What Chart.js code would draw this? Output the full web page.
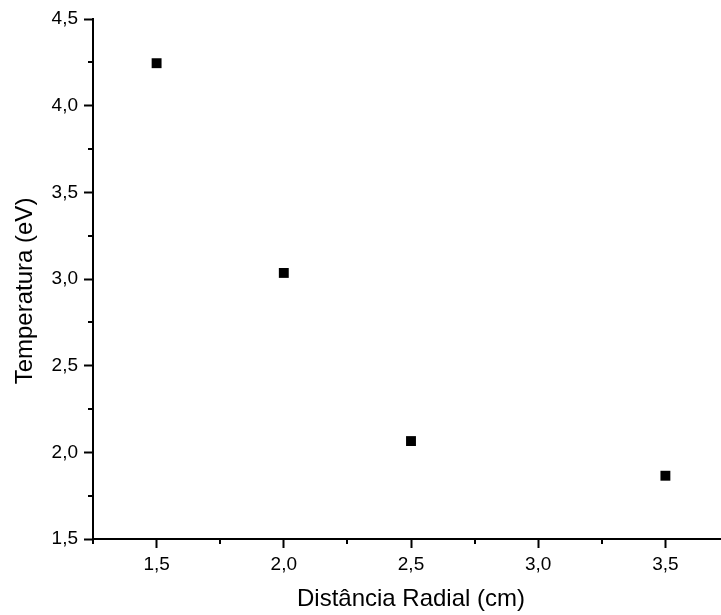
<!DOCTYPE html>
<html>
<head>
<meta charset="utf-8">
<script src="https://cdn.jsdelivr.net/npm/chart.js@4/dist/chart.umd.min.js"></script>
<style>
  html, body { margin: 0; padding: 0; background: #fff; overflow: hidden; }
  #wrap { width: 730px; height: 615px; }
</style>
</head>
<body>
<div id="wrap"><canvas id="tempChart" width="730" height="615"></canvas></div>
<script>
// radial distance (cm) and electron temperature (eV)
const distance = [1.5, 2.0, 2.5, 3.5];
const temperature = [4.245, 3.035, 2.065, 1.865];

// tick positions
const xMajor = [1.5, 2.0, 2.5, 3.0, 3.5];
const xMinor = [1.25, 1.75, 2.25, 2.75, 3.25, 3.75];
const yMajor = [1.5, 2.0, 2.5, 3.0, 3.5, 4.0, 4.5];
const yMinor = [1.75, 2.25, 2.75, 3.25, 3.75, 4.25];

const xTitle = "Distância Radial (cm)";
const yTitle = "Temperatura (eV)";

const fontFamily = "'Liberation Sans', Arial, sans-serif";
const commaFmt = v => Number(v).toFixed(1).replace(".", ",");

// short outward ticks between the labelled ones, plus the y-axis title
const extras = {
  id: "extras",
  afterDraw(chart) {
    const ctx = chart.ctx;
    const xs = chart.scales.x, ys = chart.scales.y;
    const area = chart.chartArea;
    ctx.save();
    ctx.strokeStyle = "#000";
    ctx.lineWidth = 2;
    ctx.beginPath();
    xMinor.forEach(v => {
      const px = Math.round(xs.getPixelForValue(v));
      ctx.moveTo(px, area.bottom);
      ctx.lineTo(px, area.bottom + 5);
    });
    yMinor.forEach(v => {
      const py = Math.round(ys.getPixelForValue(v));
      ctx.moveTo(area.left, py);
      ctx.lineTo(area.left - 5, py);
    });
    ctx.stroke();

    // y title sits a little below the middle of the axis
    ctx.translate(25, (area.top + area.bottom) / 2 + 12);
    ctx.rotate(-Math.PI / 2);
    ctx.fillStyle = "#000";
    ctx.font = "24px " + fontFamily;
    ctx.textAlign = "center";
    ctx.textBaseline = "middle";
    ctx.fillText(yTitle, 0, 0);
    ctx.restore();
  }
};

const noPad = s => { s.paddingLeft = 0; s.paddingRight = 0; s.paddingTop = 0; s.paddingBottom = 0; };

new Chart(document.getElementById("tempChart"), {
  type: "scatter",
  data: {
    datasets: [{
      data: distance.map((d, i) => ({ x: d, y: temperature[i] })),
      pointStyle: "rect",
      pointRadius: 7,
      pointBorderWidth: 0,
      backgroundColor: "#000",
      borderColor: "#000"
    }]
  },
  options: {
    responsive: false,
    animation: false,
    devicePixelRatio: 1,
    layout: { autoPadding: false, padding: { top: 19, right: 1, left: 0, bottom: 0 } },
    plugins: { legend: { display: false }, tooltip: { enabled: false } },
    scales: {
      x: {
        type: "linear",
        min: 1.25,
        max: 3.75,
        afterBuildTicks: s => { s.ticks = xMajor.map(v => ({ value: v })); },
        afterFit: s => { s.height = 76; noPad(s); },
        border: { display: true, color: "#000", width: 2 },
        grid: { drawOnChartArea: false, drawTicks: true, tickLength: 9, tickWidth: 2, tickColor: "#000", color: "#000" },
        ticks: { color: "#000", padding: 5, maxRotation: 0, font: { family: fontFamily, size: 19 }, callback: commaFmt },
        title: { display: true, text: xTitle, color: "#000", padding: { top: 0, bottom: 1 }, font: { family: fontFamily, size: 24 } }
      },
      y: {
        type: "linear",
        min: 1.5,
        max: 4.5,
        afterBuildTicks: s => { s.ticks = yMajor.map(v => ({ value: v })); },
        afterFit: s => { s.width = 93; noPad(s); },
        border: { display: true, color: "#000", width: 2 },
        grid: { drawOnChartArea: false, drawTicks: true, tickLength: 9, tickWidth: 2, tickColor: "#000", color: "#000" },
        ticks: { color: "#000", padding: 6, font: { family: fontFamily, size: 19 }, callback: commaFmt }
      }
    }
  },
  plugins: [extras]
});
</script>
</body>
</html>
